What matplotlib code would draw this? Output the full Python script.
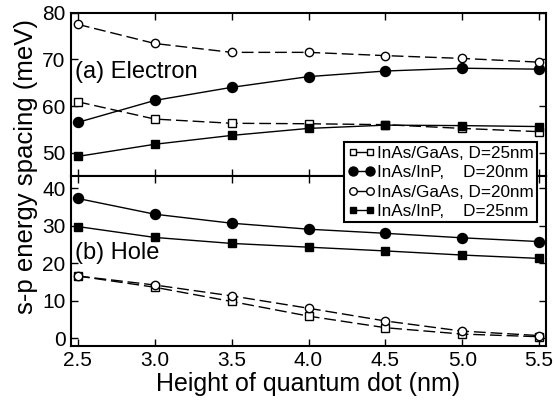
import matplotlib
matplotlib.use("Agg")
import matplotlib.pyplot as plt
from matplotlib.lines import Line2D

plt.rcParams['font.family'] = ['Liberation Sans', 'DejaVu Sans']

heights = [2.5, 3.0, 3.5, 4.0, 4.5, 5.0, 5.5]

# Electron (top panel)
e_gaas25 = [60.9, 57.2, 56.3, 56.2, 56.0, 55.2, 54.5]
e_inp20 = [56.5, 61.2, 64.0, 66.3, 67.5, 68.1, 67.9]
e_gaas20 = [77.5, 73.4, 71.5, 71.5, 70.8, 70.2, 69.4]
e_inp25 = [49.2, 51.8, 53.7, 55.2, 55.9, 55.8, 55.6]

# Hole (bottom panel)
h_gaas25 = [16.6, 13.6, 9.8, 5.9, 2.8, 1.1, 0.4]
h_inp20 = [37.3, 33.1, 30.7, 29.1, 28.0, 26.8, 25.8]
h_gaas20 = [16.6, 14.2, 11.3, 8.0, 4.6, 1.9, 0.7]
h_inp25 = [29.8, 26.9, 25.3, 24.3, 23.3, 22.2, 21.3]

labels = ["InAs/GaAs, D=25nm", "InAs/InP,    D=20nm",
          "InAs/GaAs, D=20nm", "InAs/InP,    D=25nm"]
xticks = [2.5, 3.0, 3.5, 4.0, 4.5, 5.0, 5.5]
xticklabels = ["2.5", "3.0", "3.5", "4.0", "4.5", "5.0", "5.5"]

W, H = 555, 403
fig = plt.figure(figsize=(W / 100, H / 100), dpi=100)
L, R = 71 / W, 546 / W
ax1 = fig.add_axes([L, 1 - 176 / H, R - L, (176 - 12.7) / H])
ax2 = fig.add_axes([L, 1 - 345.7 / H, R - L, (345.7 - 176) / H])

dash = (0, (8.5, 3.5))
styles = [
    dict(ls=dash, marker='s', mfc='white', mec='black', ms=5.2, mew=1.0),
    dict(ls='-', marker='o', mfc='black', mec='black', ms=7.2, mew=1.0),
    dict(ls=dash, marker='o', mfc='white', mec='black', ms=6.0, mew=1.0),
    dict(ls='-', marker='s', mfc='black', mec='black', ms=5.2, mew=1.0),
]

for ax, series in [(ax1, [e_gaas25, e_inp20, e_gaas20, e_inp25]),
                   (ax2, [h_gaas25, h_inp20, h_gaas20, h_inp25])]:
    for ys, st in zip(series, styles):
        ax.plot(heights, ys, color='black', lw=1.0, clip_on=False, **st)
    ax.set_xlim(2.455, 5.545)
    ax.set_xticks(xticks)
    ax.tick_params(direction='in', length=5, width=1, top=True, right=True,
                   labelsize=15, pad=4)
    for sp in ax.spines.values():
        sp.set_linewidth(1.5)

ax1.set_ylim(45, 80)
ax1.set_yticks([50, 60, 70, 80])
ax1.set_xticklabels([])
ax2.set_ylim(-2, 43.3)
ax2.set_yticks([0, 10, 20, 30, 40])
ax2.set_xticklabels(xticklabels)
ax2.tick_params(axis='x', pad=4)

ax1.text(75 / W, 1 - 78 / H, "(a) Electron", fontsize=17, transform=fig.transFigure,
         ha='left', va='baseline')
ax2.text(75 / W, 1 - 259 / H, "(b) Hole", fontsize=17, transform=fig.transFigure,
         ha='left', va='baseline')

fig.text(308 / W, 1 - 391 / H, "Height of quantum dot (nm)", fontsize=18,
         ha='center', va='baseline')
fig.text(26 / W, 1 - 166 / H, "s-p energy spacing (meV)", fontsize=18.5,
         ha='center', va='center', rotation=90)

handles = [Line2D([0], [0], color='black', lw=1.0, ls='-',
                  marker=st['marker'], mfc=st['mfc'], mec='black',
                  ms=st['ms'] * 0.9, mew=1.0) for st in styles]
leg = fig.legend(handles, labels, loc='upper left',
                 bbox_to_anchor=(344 / W, 1 - 142.3 / H), bbox_transform=fig.transFigure,
                 fontsize=12.3, numpoints=2, handlelength=1.6, handletextpad=0.13,
                 labelspacing=0.26, borderpad=0.2, borderaxespad=0.0,
                 handleheight=0.6, frameon=True, fancybox=False, framealpha=1,
                 edgecolor='black')
leg.get_frame().set_linewidth(1.5)
leg.set_zorder(10)

fig.savefig("out.png", dpi=100)
